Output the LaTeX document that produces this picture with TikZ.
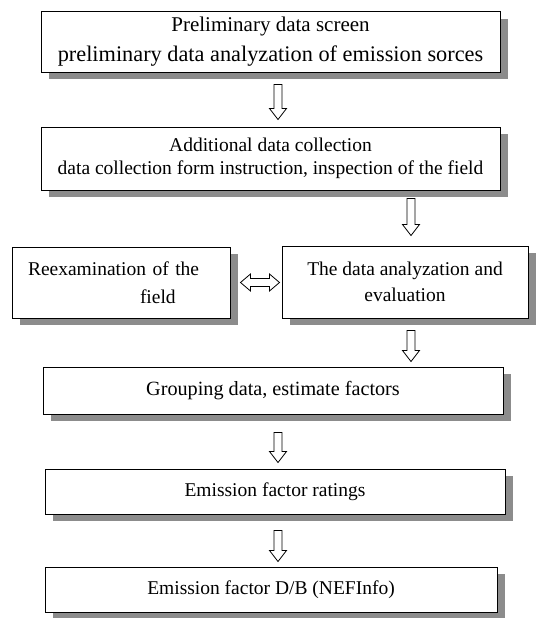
\documentclass[tikz,border=0pt]{standalone}
\usepackage{fontspec}
\setmainfont{Liberation Serif}
\usetikzlibrary{calc,shadows}
\tikzset{
  box/.style={draw=black, line width=1pt, fill=white, inner sep=0pt, align=center,
    font=\fontsize{19.5}{23}\selectfont,
    drop shadow={shadow xshift=8pt, shadow yshift=-7pt, fill=black!45, opacity=1}},
  arrowline/.style={draw=black, line width=0.8pt, fill=white, line join=miter},
}
\newcommand\hollowdown[2]{\draw[arrowline] let \p1=#1, \p2=#2 in
  (\x1-4pt,\y1) -- (\x1-4pt,\y2+11pt) -- (\x1-8.5pt,\y2+11pt) -- (\x1,\y2)
  -- (\x1+8.5pt,\y2+11pt) -- (\x1+4pt,\y2+11pt) -- (\x1+4pt,\y1) -- cycle;}
\newcommand\hollowboth[2]{\draw[arrowline] let \p1=#1, \p2=#2 in
  (\x1,\y1) -- (\x1+10pt,\y1+8.5pt) -- (\x1+10pt,\y1+4pt) -- (\x2-10pt,\y1+4pt)
  -- (\x2-10pt,\y1+8.5pt) -- (\x2,\y1) -- (\x2-10pt,\y1-8.5pt) -- (\x2-10pt,\y1-4pt)
  -- (\x1+10pt,\y1-4pt) -- (\x1+10pt,\y1-8.5pt) -- cycle;}
\begin{document}
\begin{tikzpicture}[x=1pt,y=-1pt]
\useasboundingbox[fill=white] (0,0) rectangle (539,618);
\node[box, minimum width=459pt, minimum height=60pt, font=\fontsize{21}{30}\selectfont] (b1) at (270.5,42)
  {Preliminary data screen\\{\fontsize{22.3}{30}\selectfont preliminary data analyzation of emission sorces}};
\node[box, minimum width=459pt, minimum height=63pt] (b2) at (270.5,158.5)
  {Additional data collection\\data collection form instruction, inspection of the field};
\node[box, align=left, text width=186pt, inner xsep=16pt, minimum height=71pt, font=\fontsize{19.5}{28}\selectfont] (bl) at (121,282.5)
  {Reexamination of the\\\hspace*{112pt}field};
\node[box, minimum width=246pt, minimum height=72pt, font=\fontsize{19.5}{26}\selectfont] (br) at (405,282)
  {The data analyzation and\\evaluation};
\node[box, minimum width=460pt, minimum height=47pt, font=\fontsize{20.2}{23}\selectfont] (b3) at (273,390.5)
  {Grouping data, estimate factors};
\node[box, minimum width=460pt, minimum height=45pt] (b4) at (275,491.5)
  {Emission factor ratings};
\node[box, minimum width=452pt, minimum height=45pt] (b5) at (271,589.5)
  {Emission factor D/B (NEFInfo)};
\hollowdown{([xshift=7.5pt,yshift=-12pt]b1.south)}{([yshift=7pt]b2.north)}
\hollowdown{([xshift=140.5pt,yshift=-8pt]b2.south)}{([yshift=10pt]br.north)}
\hollowdown{([xshift=6pt,yshift=-12pt]br.south)}{([yshift=5pt]b3.north)}
\hollowdown{([xshift=5pt,yshift=-18pt]b3.south)}{([yshift=6pt]b4.north)}
\hollowdown{([xshift=3pt,yshift=-16pt]b4.south)}{([yshift=5pt]b5.north)}
\hollowboth{([xshift=10pt]bl.east)}{([xshift=-2pt]br.west)}
\end{tikzpicture}
\end{document}
